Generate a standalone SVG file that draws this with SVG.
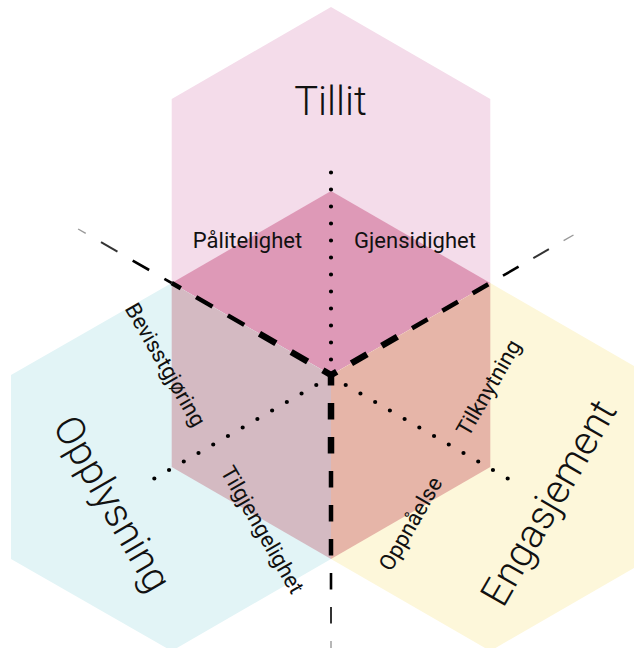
<svg xmlns="http://www.w3.org/2000/svg" width="634" height="648" viewBox="0 0 634 648">
<style>
.lbl{font-family:Roboto,"Liberation Sans",sans-serif;font-size:22px;fill:#111;text-anchor:middle}
.title{font-family:Roboto,"Liberation Sans",sans-serif;font-weight:300;font-size:40px;fill:#111;text-anchor:middle}
.d{fill:none;stroke-linecap:butt}
.ul{stroke-dasharray:19 17.6}
.ur{stroke-dasharray:18 17}
.dn{stroke-dasharray:16.5 17.5}
.w1{stroke:#000;stroke-width:6.5}
.w2{stroke:#000;stroke-width:4.5}
.w3{stroke:#000;stroke-width:2.6}
.w4{stroke:#333;stroke-width:2}
.w5{stroke:#999;stroke-width:1.4}
.dot{fill:none;stroke:#000;stroke-width:4.2;stroke-linecap:round;stroke-dasharray:0 17}
</style>
<g id="tillit">
<polygon points="331,7 490.3,99 490.3,283 331,375 171.7,283 171.7,99" fill="#f4dcea"/>
<polygon points="171.7,283 331,191 490.3,283 331,375" fill="#de99b7"/>
<text class="title" x="330.5" y="115">Tillit</text>
</g>
<g id="opplysning">
<polygon points="171.7,283 331,375 331,559 171.7,651 11,559 11,375" fill="#e2f4f6"/>
<polygon points="171.7,283 331,375 331,559 171.7,467" fill="#d4bac2"/>
<text class="title" transform="translate(112,504) rotate(60)" y="13">Opplysning</text>
</g>
<g id="engasjement">
<polygon points="490.3,283 649.6,375 649.6,559 490.3,651 331,559 331,375" fill="#fdf7da"/>
<polygon points="331,375 490.3,283 490.3,467 331,559" fill="#e6b5a8"/>
<text class="title" transform="translate(549,503) rotate(-60)" y="13">Engasjement</text>
</g>
<g id="connectors">
<path class="d ul w1" d="M331,375 L251.33,329" stroke-dashoffset="9.6"/>
<path class="d ul w2" d="M251.33,329 L171.66,283" stroke-dashoffset="28.4"/>
<path class="d ul w3" d="M171.66,283 L123.16,255" stroke-dashoffset="10.6"/>
<path class="d ul w4" d="M123.16,255 L92.85,237.5" stroke-dashoffset="30"/>
<path class="d ul w5" d="M92.85,237.5 L78.1,229" stroke-dashoffset="28.4"/>
<path class="d ur w1" d="M331,375 L410.67,329" stroke-dashoffset="11.4"/>
<path class="d ur w2" d="M410.67,329 L490.34,283" stroke-dashoffset="33.4"/>
<path class="d ur w3" d="M490.34,283 L525.85,262.5" stroke-dashoffset="20.4"/>
<path class="d ur w4" d="M525.85,262.5 L556.16,245" stroke-dashoffset="26.4"/>
<path class="d ur w5" d="M556.16,245 L573.48,235" stroke-dashoffset="26.4"/>
<path class="d dn w1" d="M331,375 L331,467" stroke-dashoffset="6"/>
<path class="d dn w2" d="M331,467 L331,559" stroke-dashoffset="30"/>
<path class="d dn w3" d="M331,559 L331,598" stroke-dashoffset="20"/>
<path class="d dn w4" d="M331,598 L331,632" stroke-dashoffset="25"/>
<path class="d dn w5" d="M331,632 L331,648" stroke-dashoffset="25"/>
<path class="dot" d="M331,359.5 L331,171"/>
<path class="dot" d="M316.28,385 L153.04,479.25"/>
<path class="dot" d="M345.72,385 L508.96,479.25"/>
</g>
<g id="palitelighet"><text class="lbl" x="247.5" y="248">Pålitelighet</text></g>
<g id="gjensidighet"><text class="lbl" x="415" y="248">Gjensidighet</text></g>
<g id="bevisstgjoring"><text class="lbl" transform="translate(165,365) rotate(60)" y="7">Bevisstgjøring</text></g>
<g id="tilgjengelighet"><text class="lbl" transform="translate(262,530) rotate(60)" y="7">Tilgjengelighet</text></g>
<g id="oppnaelse"><text class="lbl" transform="translate(411,524) rotate(-60)" y="7">Oppnåelse</text></g>
<g id="tilknytning"><text class="lbl" transform="translate(489,388) rotate(-60)" y="7">Tilknytning</text></g>
</svg>
